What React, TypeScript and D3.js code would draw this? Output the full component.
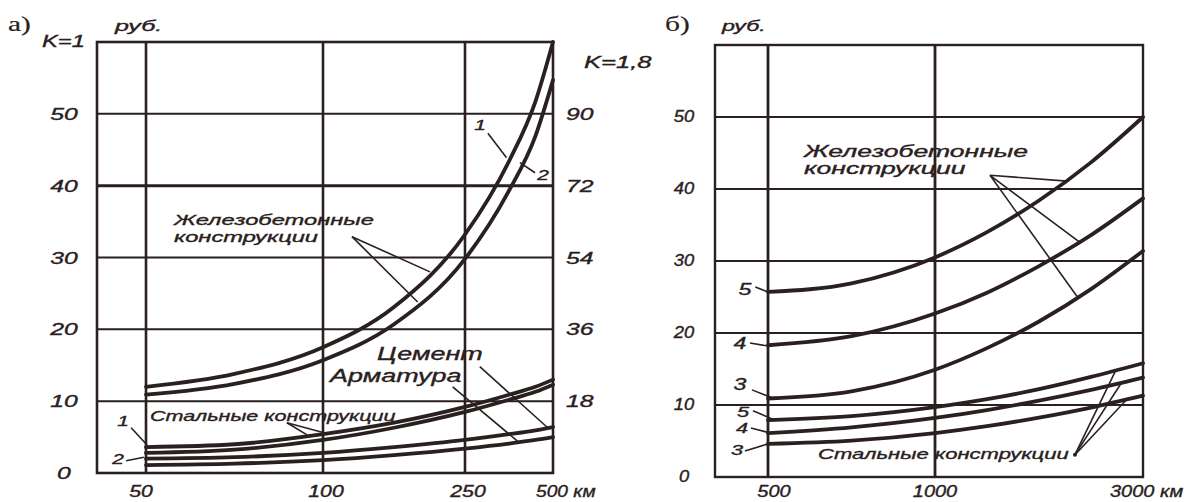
import React from 'react';
import * as d3 from 'd3';

const INK = '#2a2020';

// ---- panel а) : distance 50..500 km, K=1 (left) / K=1.8 (right)
const kmTicksA = [50, 100, 250, 500];
const kmLabelsA = ['50', '100', '250', '500 км'];
const rubTicksA = [0, 10, 20, 30, 40, 50];
const rubTicksA2 = [18, 36, 54, 72, 90];

const kmA = [50, 75, 100, 175, 250, 375, 450, 500];
const rcA1 = [12.0, 13.8, 17.5, 23.1, 33.2, 43.4, 51.7, 60.0];
const rcA2 = [10.9, 12.4, 15.7, 20.7, 29.8, 39.3, 46.9, 54.7];
const steelA1 = [3.6, 4.0, 5.4, 7.0, 9.2, 10.9, 12.0, 13.0];
const steelA2 = [2.8, 3.25, 4.6, 6.3, 8.5, 10.2, 11.3, 12.3];
const cementA = [2.0, 2.2, 2.8, 3.6, 4.6, 5.4, 5.95, 6.4];
const armA = [1.1, 1.3, 1.8, 2.5, 3.4, 4.1, 4.6, 5.0];

// ---- panel б) : distance 500..3000 km
const kmTicksB = [500, 1000, 3000];
const kmLabelsB = ['500', '1000', '3000 км'];
const rubTicksB = [0, 10, 20, 30, 40, 50];

const kmB = [500, 750, 1000, 1500, 2000, 2500, 3000];
const rcB5 = [25.7, 26.9, 30.5, 34.0, 38.4, 43.7, 50.0];
const rcB4 = [18.3, 19.55, 22.7, 25.6, 29.3, 33.6, 38.7];
const rcB3 = [10.9, 11.9, 14.9, 17.9, 21.6, 26.1, 31.4];
const steelB5 = [7.9, 8.45, 9.7, 10.8, 12.2, 13.9, 15.8];
const steelB4 = [6.1, 6.9, 8.2, 9.3, 10.6, 12.1, 13.8];
const steelB3 = [4.6, 5.05, 6.1, 7.05, 8.25, 9.65, 11.3];

type P = [number, number];

// leader lines in data units [km, rub]
const leadersA: P[][] = [
  [[130.6, 32.9], [213, 28.0]],
  [[130.6, 32.9], [200, 23.8]],
  [[89.8, 7.0], [101, 5.6]],
  [[89.8, 7.0], [95.5, 5.3]],
  [[292, 14.8], [485, 6.3]],
  [[237, 12.0], [400, 4.4]],
  [[315, 47.3], [368, 43.9]],
  [[406, 43.2], [449, 41.8]],
  [[45.8, 6.3], [50.3, 3.9]],
  [[44.4, 1.7], [49.4, 2.2]],
];
const leadersB: P[][] = [
  [[1529, 41.9], [2269, 41.1]],
  [[1529, 41.9], [2394, 32.6]],
  [[1529, 41.9], [2375, 24.9]],
  [[2346, 3.1], [2731, 14.6]],
  [[2346, 3.1], [2798, 13.2]],
  [[2346, 3.1], [2846, 10.8]],
  [[462, 26.4], [500, 25.7]],
  [[446, 18.6], [500, 18.2]],
  [[452, 12.1], [512, 11.0]],
  [[455, 9.2], [521, 7.9]],
  [[449, 6.8], [500, 6.2]],
  [[431, 3.6], [500, 4.6]],
];

const SANS = '"Liberation Sans", Arial, sans-serif';
const SERIF = '"Liberation Serif", "Times New Roman", serif';

function T({ x, y, s, sx = 1.5, a = 'start', serif = false, children }: any) {
  return (
    <text
      transform={`translate(${x},${y}) scale(${sx},1)`}
      fontSize={s}
      textAnchor={a}
      fontStyle={serif ? 'normal' : 'italic'}
      fontFamily={serif ? SERIF : SANS}
      fill={INK}
      stroke={INK}
      strokeWidth={serif ? 0.2 : 0.35}
    >
      {children}
    </text>
  );
}

export default function App() {
  // panel а
  const A = { left: 97, right: 553, top: 42, bottom: 473 };
  const xA = d3.scaleLinear().domain(kmTicksA).range([146, 323, 465, 553]);
  const yA = d3.scaleLinear().domain([0, 60]).range([A.bottom, A.top]);
  const yA2 = d3.scaleLinear().domain([0, 108]).range([A.bottom, A.top]);

  // panel б
  const B = { left: 715, right: 1143, top: 45, bottom: 477 };
  const xB = d3.scaleLinear().domain(kmTicksB).range([768, 935, 1143]);
  const yB = d3.scaleLinear().domain([0, 60]).range([B.bottom, B.top]);

  const lineA = d3.line<P>().x(d => xA(d[0])).y(d => yA(d[1])).curve(d3.curveMonotoneX);
  const lineB = d3.line<P>().x(d => xB(d[0])).y(d => yB(d[1])).curve(d3.curveMonotoneX);
  const segA = d3.line<P>().x(d => xA(d[0])).y(d => yA(d[1]));
  const segB = d3.line<P>().x(d => xB(d[0])).y(d => yB(d[1]));

  const curvesA = [rcA1, rcA2, steelA1, steelA2, cementA, armA].map(v => d3.zip(kmA, v) as P[]);
  const curvesB = [rcB5, rcB4, rcB3, steelB5, steelB4, steelB3].map(v => d3.zip(kmB, v) as P[]);

  return (
    <svg width={1190} height={502} style={{ position: 'absolute', left: 0, top: 0, background: '#fff' }}>
      <rect width={1190} height={502} fill="#fff" />

      {/* ---------- panel а grid ---------- */}
      <g stroke={INK} fill="none">
        {[10, 20, 30, 40, 50].map(v => (
          <line key={v} x1={A.left} x2={A.right} y1={yA(v)} y2={yA(v)} strokeWidth={v === 40 ? 3 : 2} />
        ))}
        {kmTicksA.slice(0, 3).map(k => (
          <line key={k} x1={xA(k)} x2={xA(k)} y1={A.top} y2={A.bottom} strokeWidth={2.6} />
        ))}
        <rect x={A.left} y={A.top} width={A.right - A.left} height={A.bottom - A.top} strokeWidth={2.6} />
      </g>
      <g stroke={INK} fill="none" strokeWidth={3.8} strokeLinecap="round">
        {curvesA.map((c, i) => <path key={i} d={lineA(c) || ''} />)}
      </g>
      <g stroke={INK} fill="none" strokeWidth={1.6}>
        {leadersA.map((l, i) => <path key={i} d={segA(l) || ''} />)}
      </g>

      {rubTicksA.map(v => (
        <T key={v} x={64} y={yA(v) + 6} s={16.5} sx={1.5} a="middle">{v}</T>
      ))}
      {rubTicksA2.map(v => (
        <T key={v} x={566} y={yA2(v) + 6} s={16.5} sx={1.5}>{v}</T>
      ))}
      {kmTicksA.map((k, i) => (
        i < 3
          ? <T key={k} x={xA(k) + (i === 0 ? -5 : 3)} y={497} s={16} sx={1.33} a="middle">{kmLabelsA[i]}</T>
          : <T key={k} x={xA(k) - 17} y={497} s={16} sx={1.2}>{kmLabelsA[i]}</T>
      ))}
      <T x={8} y={31} s={21} sx={1.4} serif>а)</T>
      <T x={42} y={47} s={17} sx={1.4}>K=1</T>
      <T x={115} y={31} s={15.5} sx={1.62}>руб.</T>
      <T x={584} y={68} s={16} sx={1.6}>K=1,8</T>

      <T x={174} y={225} s={15} sx={1.58}>Железобетонные</T>
      <T x={174} y={242} s={15} sx={1.58}>конструкции</T>
      <T x={377} y={360} s={18} sx={1.5}>Цемент</T>
      <T x={330} y={382} s={18} sx={1.5}>Арматура</T>
      <T x={150} y={421} s={15} sx={1.44}>Стальные конструкции</T>
      <T x={480} y={130} s={15} sx={1.4} a="middle">1</T>
      <T x={543} y={180} s={15} sx={1.4} a="middle">2</T>
      <T x={123} y={426} s={15} sx={1.4} a="middle">1</T>
      <T x={118} y={464} s={15} sx={1.4} a="middle">2</T>

      {/* ---------- panel б grid ---------- */}
      <g stroke={INK} fill="none">
        {[10, 20, 30, 40, 50].map(v => (
          <line key={v} x1={B.left} x2={B.right} y1={yB(v)} y2={yB(v)} strokeWidth={2} />
        ))}
        {kmTicksB.slice(0, 2).map(k => (
          <line key={k} x1={xB(k)} x2={xB(k)} y1={B.top} y2={B.bottom} strokeWidth={2.8} />
        ))}
        <rect x={B.left} y={B.top} width={B.right - B.left} height={B.bottom - B.top} strokeWidth={2.4} />
      </g>
      <g stroke={INK} fill="none" strokeWidth={3.8} strokeLinecap="round">
        {curvesB.map((c, i) => <path key={i} d={lineB(c) || ''} />)}
      </g>
      <g stroke={INK} fill="none" strokeWidth={1.6}>
        {leadersB.map((l, i) => <path key={i} d={segB(l) || ''} />)}
      </g>
      <circle cx={xB(2346)} cy={yB(3.1)} r={2} fill={INK} />

      {rubTicksB.map(v => (
        <T key={v} x={684} y={yB(v) + 5} s={16} sx={1.15} a="middle">{v}</T>
      ))}
      {kmTicksB.map((k, i) => (
        i < 2
          ? <T key={k} x={xB(k) + (i === 0 ? 6 : 0)} y={497} s={16} sx={1.25} a="middle">{kmLabelsB[i]}</T>
          : <T key={k} x={xB(k) - 33} y={497} s={16} sx={1.25}>{kmLabelsB[i]}</T>
      ))}
      <T x={665} y={31} s={21} sx={1.4} serif>б)</T>
      <T x={722} y={31} s={15.5} sx={1.5}>руб.</T>

      <T x={804} y={157} s={16.5} sx={1.61}>Железобетонные</T>
      <T x={804} y={174} s={16.5} sx={1.61}>конструкции</T>
      <T x={818} y={459} s={15} sx={1.47}>Стальные конструкции</T>
      <T x={745} y={295} s={16} sx={1.45} a="middle">5</T>
      <T x={740} y={349} s={16} sx={1.45} a="middle">4</T>
      <T x={740} y={390} s={16} sx={1.45} a="middle">3</T>
      <T x={743} y={417} s={15} sx={1.45} a="middle">5</T>
      <T x={742} y={433} s={15} sx={1.45} a="middle">4</T>
      <T x={737} y={455} s={15} sx={1.45} a="middle">3</T>
    </svg>
  );
}
